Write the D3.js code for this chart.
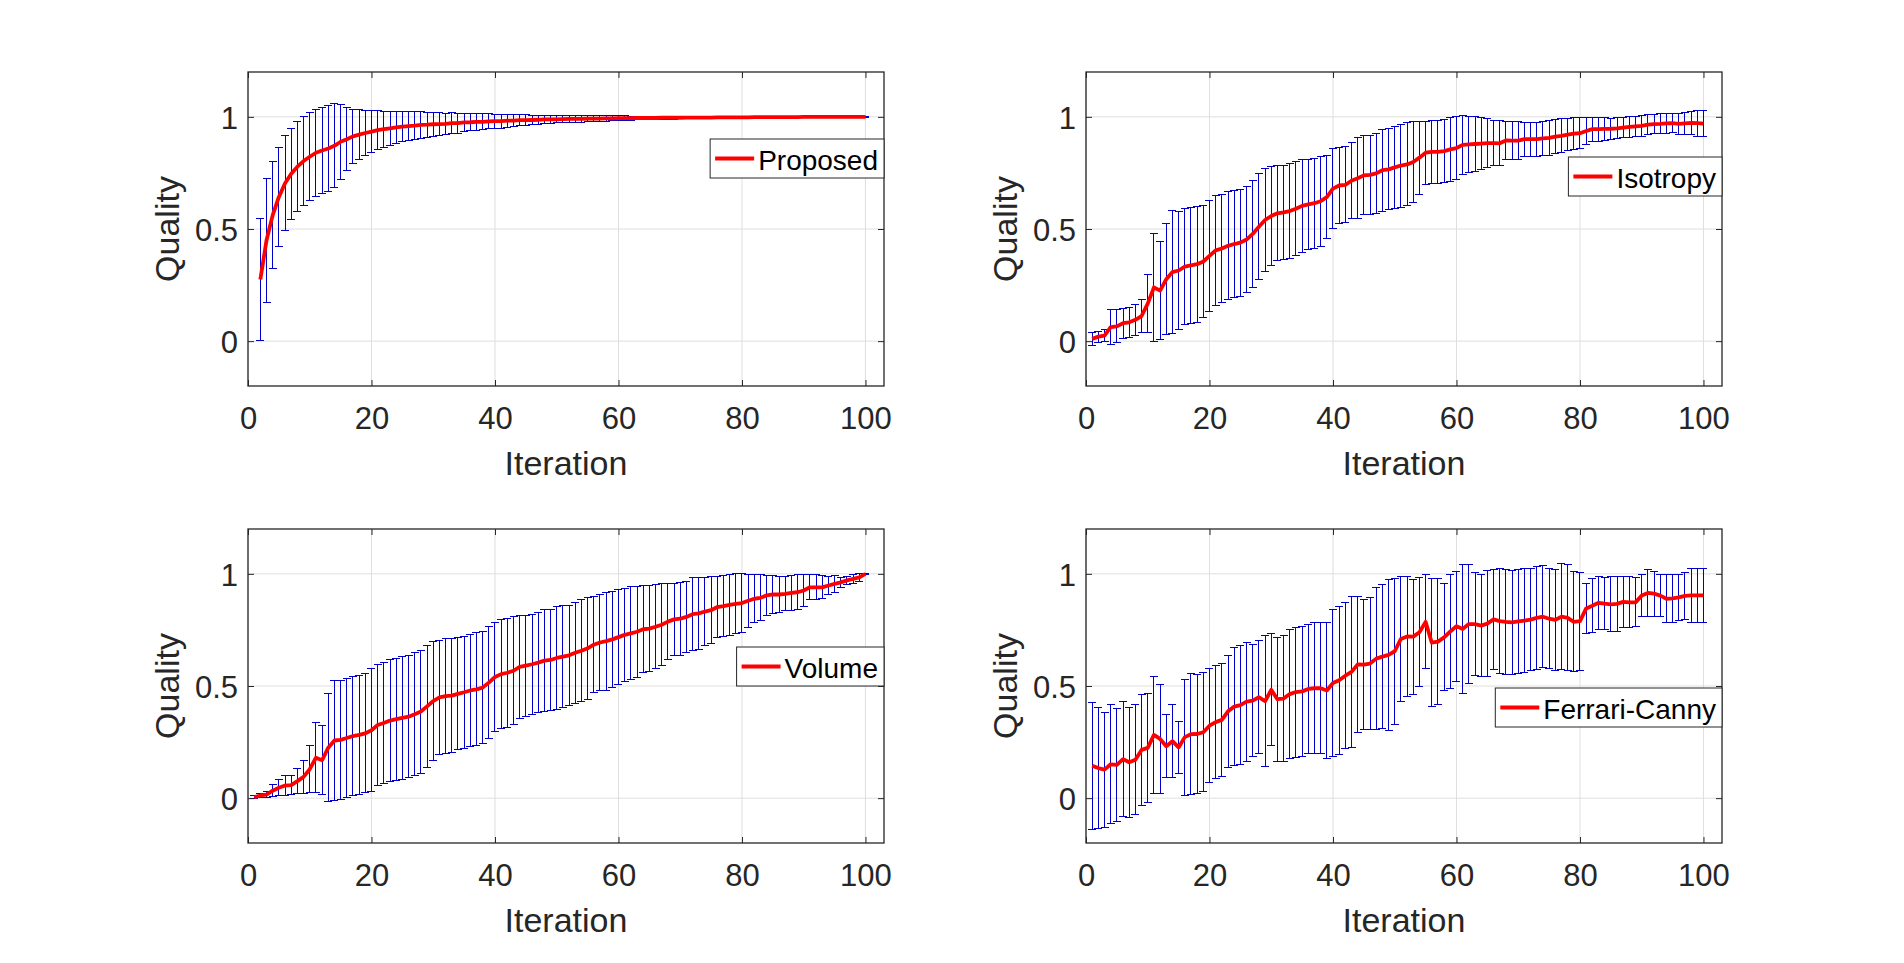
<!DOCTYPE html>
<html><head><meta charset="utf-8">
<script src="https://cdn.jsdelivr.net/npm/d3@7"></script>
<style>
html,body{margin:0;padding:0;background:#fff;}
svg{display:block;}
text{font-family:"Liberation Sans",Arial,Helvetica,sans-serif;}
</style></head><body>
<svg id="chart" width="1904" height="963"></svg>
<script>
// ---------- data ----------
const xTicks = [0, 20, 40, 60, 80, 100];
const yTicks = [0, 0.5, 1];
const yTickLabels = ["0", "0.5", "1"];
const xLabel = "Iteration";
const yLabel = "Quality";
const seriesNames = ["Proposed", "Isotropy", "Volume", "Ferrari-Canny"];
const firstIteration = [2, 1, 1, 1];

const proposedMean = [.275,.45,.562,.643,.704,.746,.778,.803,.822,.84,.85,.859,.871,.889,.90,.913,.921,.928,.934,
 .941,.945,.949,.953,.956,.959,.961,.964,.965,.967,.968,.969,.972,.972,.975,.976,.978,.978,.980,.981,
 .981,.983,.983,.985,.985,.986,.987,.989,.989,.989,.990,.991,.991,.991,.992,.992,.992,.993,.993,.994,
 .994,.994,.995,.995,.995,.995,.996,.996,.996,.996,.997,.997,.997,.997,.997,.998,.998,.998,.998,.998,
 .998,.999,.999,.999,.999,.999,.999,.999,.999,1.0,1.0,1.0,1.0,1.0,1.0,1.0,1.0,1.0,1.0,1.0];
const proposedErr = [.273,.276,.238,.219,.211,.204,.2,.197,.196,.193,.19,.193,.187,.167,.14,.122,.111,.10,.094,
 .086,.081,.076,.072,.068,.064,.061,.059,.056,.053,.051,.048,.046,.044,.041,.039,.037,.035,.033,.031,
 .031,.029,.027,.025,.024,.022,.020,.019,.018,.016,.016,.015,.015,.015,.014,.014,.013,.012,.011,.010,
 .010,.009,.008,.008,.007,.007,.006,.006,.006,.005,.004,.004,.004,.004,.003,.003,.003,.003,.003,.003,
 .003,.003,.003,.003,.003,.003,.003,.003,.003,.002,.002,.002,.002,.002,.002,.002,.002,.002,.002,.002];

const isotropyMean = [.01,.02,.025,.062,.066,.08,.084,.095,.112,.167,.24,.225,.276,.308,.315,.332,.338,.343,.355,.38,
 .405,.413,.425,.433,.439,.453,.478,.51,.54,.558,.57,.574,.58,.59,.603,.61,.615,.624,.642,.68,
 .694,.697,.715,.726,.739,.741,.748,.762,.766,.775,.783,.788,.799,.818,.84,.844,.844,.847,.855,.861,
 .875,.877,.879,.881,.883,.883,.882,.895,.894,.894,.901,.901,.901,.904,.906,.912,.915,.921,.925,.927,
 .937,.945,.945,.946,.947,.949,.952,.955,.958,.96,.965,.968,.969,.971,.972,.969,.971,.973,.972,.97];
const isotropyErr = [.03,.025,.025,.077,.073,.067,.068,.07,.073,.128,.24,.219,.248,.274,.264,.26,.259,.259,.251,.247,
 .245,.242,.24,.239,.239,.238,.238,.236,.228,.222,.212,.211,.211,.21,.207,.202,.2,.2,.184,.178,
 .169,.169,.17,.18,.176,.176,.177,.182,.181,.183,.185,.185,.179,.163,.141,.14,.141,.141,.141,.142,
 .132,.126,.121,.115,.11,.102,.101,.085,.084,.084,.076,.076,.076,.076,.078,.076,.076,.073,.07,.069,
 .06,.053,.053,.05,.047,.047,.046,.045,.044,.046,.044,.042,.044,.043,.043,.048,.05,.052,.058,.059];

const volumeMean = [.004,.012,.016,.033,.046,.056,.058,.076,.095,.129,.18,.169,.225,.257,.26,.268,.277,.282,.289,.303,
 .326,.335,.346,.352,.358,.363,.374,.386,.409,.433,.449,.455,.457,.465,.472,.48,.485,.493,.515,.54,
 .553,.559,.568,.585,.591,.597,.604,.613,.616,.625,.631,.637,.648,.657,.668,.684,.694,.700,.708,.718,
 .728,.735,.742,.753,.756,.764,.773,.787,.797,.800,.808,.820,.824,.832,.838,.852,.856,.862,.866,.870,
 .880,.889,.893,.904,.908,.908,.911,.915,.918,.926,.940,.940,.940,.948,.955,.962,.971,.978,.984,1.0];
const volumeErr = [.006,.01,.012,.026,.036,.043,.042,.056,.073,.104,.157,.153,.241,.269,.265,.265,.267,.266,.265,.274,
 .271,.269,.273,.272,.273,.271,.274,.274,.272,.265,.254,.255,.254,.25,.25,.25,.252,.249,.249,.242,
 .243,.244,.24,.23,.225,.223,.223,.226,.225,.228,.227,.224,.226,.228,.226,.215,.215,.219,.215,.211,
 .206,.207,.202,.194,.193,.187,.182,.169,.162,.162,.157,.163,.16,.151,.149,.136,.135,.136,.134,.133,
 .119,.108,.102,.09,.083,.08,.076,.079,.078,.073,.056,.056,.052,.039,.039,.022,.019,.019,.016,.003];

const ferrariMean = [.144,.134,.127,.151,.148,.174,.16,.171,.215,.224,.282,.264,.231,.254,.226,.272,.285,.286,.294,.323,
 .339,.349,.387,.408,.415,.43,.435,.45,.432,.483,.441,.444,.464,.473,.476,.487,.49,.49,.48,.513,
 .526,.546,.563,.596,.595,.6,.622,.631,.639,.655,.71,.721,.72,.74,.786,.693,.698,.717,.743,.767,
 .754,.776,.776,.769,.778,.797,.789,.786,.784,.788,.792,.796,.804,.809,.8,.795,.809,.804,.786,.789,
 .846,.858,.871,.867,.864,.866,.875,.873,.873,.903,.915,.912,.903,.889,.891,.895,.902,.904,.904,.904];
const ferrariErr = [.282,.269,.257,.266,.251,.255,.246,.246,.246,.243,.26,.243,.14,.162,.115,.258,.269,.266,.264,.254,
 .251,.253,.251,.264,.267,.266,.25,.251,.291,.25,.277,.28,.288,.29,.291,.288,.292,.292,.302,.328,
 .33,.325,.338,.304,.291,.296,.315,.322,.336,.326,.277,.266,.256,.243,.209,.285,.28,.239,.254,.245,
 .287,.265,.231,.228,.237,.223,.233,.234,.232,.233,.23,.229,.23,.228,.223,.224,.235,.237,.223,.218,
 .111,.12,.119,.115,.122,.121,.115,.113,.109,.094,.104,.1,.094,.108,.106,.102,.105,.122,.122,.122];

const seriesMeans = [proposedMean, isotropyMean, volumeMean, ferrariMean];
const seriesErrs = [proposedErr, isotropyErr, volumeErr, ferrariErr];

// ---------- layout / style ----------
const AX_W = 636, AX_H = 314;
const layout = [
  {left: 248, top: 72, legendTop: 139},
  {left: 1086, top: 72, legendTop: 157},
  {left: 248, top: 529, legendTop: 647},
  {left: 1086, top: 529, legendTop: 688}
];
const xDomain = [0, 103];
const yDomain = [-0.2, 1.2];
const TICK_FONT = 31, LABEL_FONT = 34, LEGEND_FONT = 28;
const AXIS_COLOR = "#262626", GRID_COLOR = "#dfdfdf";
const BAR_COLOR = "#0000c8", LINE_COLOR = "#ff0000";

const svg = d3.select("#chart");

seriesNames.forEach((name, p) => {
  const L = layout[p];
  const g = svg.append("g").attr("transform", `translate(${L.left},${L.top})`);
  const x = d3.scaleLinear().domain(xDomain).range([0, AX_W]);
  const y = d3.scaleLinear().domain(yDomain).range([AX_H, 0]);

  // grid
  g.append("g").selectAll("line").data(xTicks).join("line")
    .attr("x1", d => x(d)).attr("x2", d => x(d)).attr("y1", 0).attr("y2", AX_H)
    .attr("stroke", GRID_COLOR).attr("stroke-width", 1);
  g.append("g").selectAll("line").data(yTicks).join("line")
    .attr("y1", d => y(d)).attr("y2", d => y(d)).attr("x1", 0).attr("x2", AX_W)
    .attr("stroke", GRID_COLOR).attr("stroke-width", 1);

  // data
  const means = seriesMeans[p], errs = seriesErrs[p];
  const pts = means.map((m, i) => ({it: firstIteration[p] + i, m: m, e: errs[i]}));

  const bars = g.append("g").attr("stroke", BAR_COLOR).attr("stroke-width", 1)
    .attr("fill", "none").attr("shape-rendering", "crispEdges");
  const cap = 4;
  bars.selectAll("path").data(pts).join("path")
    .attr("d", d => {
      const cx = x(d.it), y1 = y(d.m + d.e), y2 = y(d.m - d.e);
      return `M${cx},${y1}V${y2}M${cx - cap},${y1}H${cx + cap}M${cx - cap},${y2}H${cx + cap}`;
    });

  const line = d3.line().x(d => x(d.it)).y(d => y(d.m)).curve(d3.curveLinear);
  g.append("path").datum(pts).attr("d", line)
    .attr("fill", "none").attr("stroke", LINE_COLOR).attr("stroke-width", 3.8)
    .attr("stroke-linejoin", "round").attr("stroke-linecap", "butt");

  // axes (ticks inside on all four sides)
  const styleAxis = sel => {
    sel.select(".domain").remove();
    sel.selectAll(".tick line").attr("stroke", AXIS_COLOR).attr("stroke-width", 1);
    sel.selectAll(".tick text").attr("fill", AXIS_COLOR).attr("font-size", TICK_FONT)
      .attr("font-family", '"Liberation Sans",Arial,Helvetica,sans-serif');
  };
  g.append("g").attr("transform", `translate(0,${AX_H})`)
    .call(d3.axisBottom(x).tickValues(xTicks).tickSize(-6).tickPadding(21).tickFormat(d3.format("d")))
    .call(styleAxis);
  g.append("g")
    .call(d3.axisTop(x).tickValues(xTicks).tickSize(-6).tickFormat(""))
    .call(styleAxis);
  g.append("g")
    .call(d3.axisLeft(y).tickValues(yTicks).tickSize(-6).tickPadding(10).tickFormat((d, i) => yTickLabels[i]))
    .call(styleAxis)
    .selectAll(".tick text").attr("dy", "0.38em");
  g.append("g").attr("transform", `translate(${AX_W},0)`)
    .call(d3.axisRight(y).tickValues(yTicks).tickSize(-6).tickFormat(""))
    .call(styleAxis);

  // box
  g.append("rect").attr("x", 0).attr("y", 0).attr("width", AX_W).attr("height", AX_H)
    .attr("fill", "none").attr("stroke", AXIS_COLOR).attr("stroke-width", 1.3);

  // axis labels
  g.append("text").attr("x", AX_W / 2).attr("y", AX_H + 89)
    .attr("text-anchor", "middle").attr("font-size", LABEL_FONT).attr("fill", AXIS_COLOR).text(xLabel);
  g.append("text").attr("transform", `translate(-69,${AX_H / 2}) rotate(-90)`)
    .attr("text-anchor", "middle").attr("font-size", LABEL_FONT).attr("fill", AXIS_COLOR).text(yLabel);

  // legend
  const lg = svg.append("g");
  const ly = L.legendTop;
  const rect = lg.append("rect").attr("fill", "#fff").attr("stroke", AXIS_COLOR).attr("stroke-width", 1);
  const txt = lg.append("text").attr("font-size", LEGEND_FONT).attr("fill", "#000").text(name);
  const tw = txt.node().getComputedTextLength();
  const bw = tw + 54, bh = 39;
  const bx = L.left + AX_W - bw;
  rect.attr("x", bx).attr("y", ly).attr("width", bw).attr("height", bh);
  lg.append("line").attr("x1", bx + 5).attr("x2", bx + 44).attr("y1", ly + 19.5).attr("y2", ly + 19.5)
    .attr("stroke", LINE_COLOR).attr("stroke-width", 3.8);
  txt.attr("x", bx + 48).attr("y", ly + 30.5);
});
</script>
</body></html>
